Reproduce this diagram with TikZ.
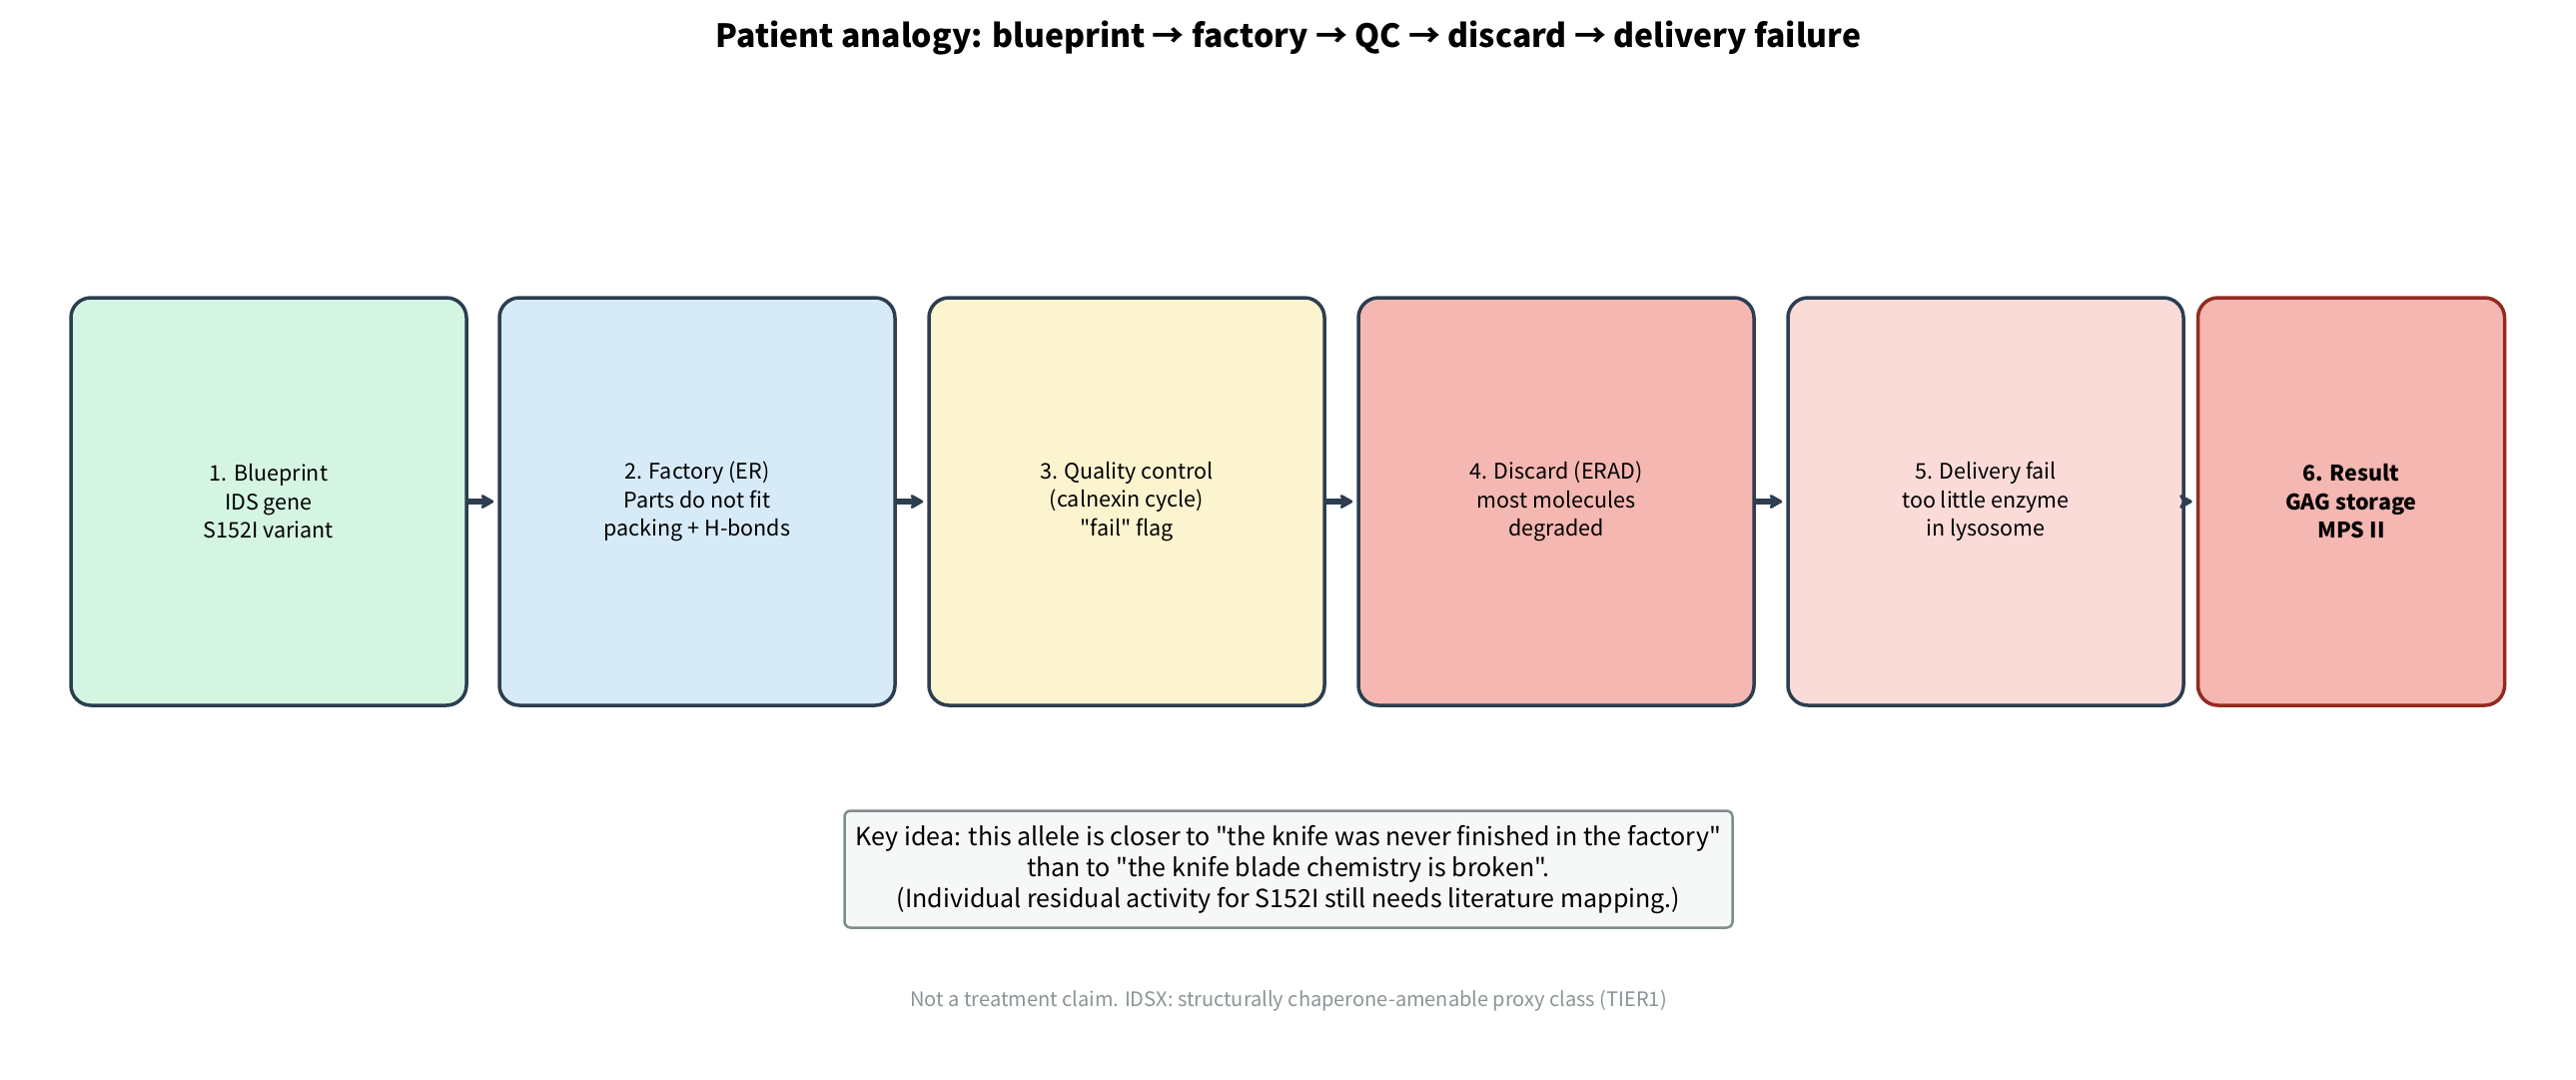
\documentclass[tikz,border=0pt]{standalone}
\usepackage{fontspec}
\setmainfont{Noto Sans CJK KR}[Ligatures=TeXOff]
\usetikzlibrary{arrows.meta}
\definecolor{edge}{HTML}{2C3E50}
\definecolor{redge}{HTML}{922B21}
\definecolor{cA}{HTML}{D5F5E3}
\definecolor{cB}{HTML}{D6EAF8}
\definecolor{cC}{HTML}{FCF3CF}
\definecolor{cD}{HTML}{F5B7B1}
\definecolor{cE}{HTML}{FADBD8}
\definecolor{keyfill}{HTML}{F6F8F7}
\definecolor{keyedge}{HTML}{7F8C8D}
\definecolor{foot}{HTML}{8A9496}
\tikzset{
  stagebox/.style={draw=edge, line width=3.5pt, rounded corners=20pt, minimum height=408pt, align=center, font=\fontsize{21.5}{28.5}\selectfont, inner sep=0pt},
  flow/.style={draw=edge, line width=6pt, -{Stealth[length=16pt,width=18pt,inset=5pt,round]}, shorten >=4pt},
}
\begin{document}
\begin{tikzpicture}[x=1pt,y=-1pt]
\useasboundingbox (0,0) rectangle (2579,1080);
\node[font=\fontsize{32}{38}\selectfont\bfseries] (title) at (1290,38) {Patient analogy: blueprint → factory → QC → discard → delivery failure};
\node[stagebox, fill=cA, minimum width=396pt] (b1) at (269,502) {1. Blueprint\\IDS gene\\S152I variant};
\node[stagebox, fill=cB, minimum width=396pt] (b2) at (698,502) {2. Factory (ER)\\Parts do not fit\\packing + H-bonds};
\node[stagebox, fill=cC, minimum width=396pt] (b3) at (1128,502) {3. Quality control\\(calnexin cycle)\\"fail" flag};
\node[stagebox, fill=cD, minimum width=396pt] (b4) at (1558,502) {4. Discard (ERAD)\\most molecules\\degraded};
\node[stagebox, fill=cE, minimum width=396pt] (b5) at (1988,502) {5. Delivery fail\\too little enzyme\\in lysosome};
\node[stagebox, fill=cD, draw=redge, minimum width=307pt, font=\fontsize{21.5}{28.5}\selectfont\bfseries] (b6) at (2354,502) {6. Result\\GAG storage\\MPS II};
\draw[flow] (b1.east) -- (b2.west);
\draw[flow] (b2.east) -- (b3.west);
\draw[flow] (b3.east) -- (b4.west);
\draw[flow] (b4.east) -- (b5.west);
\draw[flow] (b5.east) -- (b6.west);
\node[draw=keyedge, fill=keyfill, line width=2.5pt, rounded corners=6pt, minimum width=889pt, minimum height=117pt, align=center, font=\fontsize{25}{31}\selectfont, inner sep=0pt] (key) at (1290,870) {Key idea: this allele is closer to "the knife was never finished in the factory"\\than to "the knife blade chemistry is broken".\\(Individual residual activity for S152I still needs literature mapping.)};
\node[text=foot, font=\fontsize{20}{24}\selectfont] (note) at (1290,1002) {Not a treatment claim. IDSX: structurally chaperone-amenable proxy class (TIER1)};
\end{tikzpicture}
\end{document}
